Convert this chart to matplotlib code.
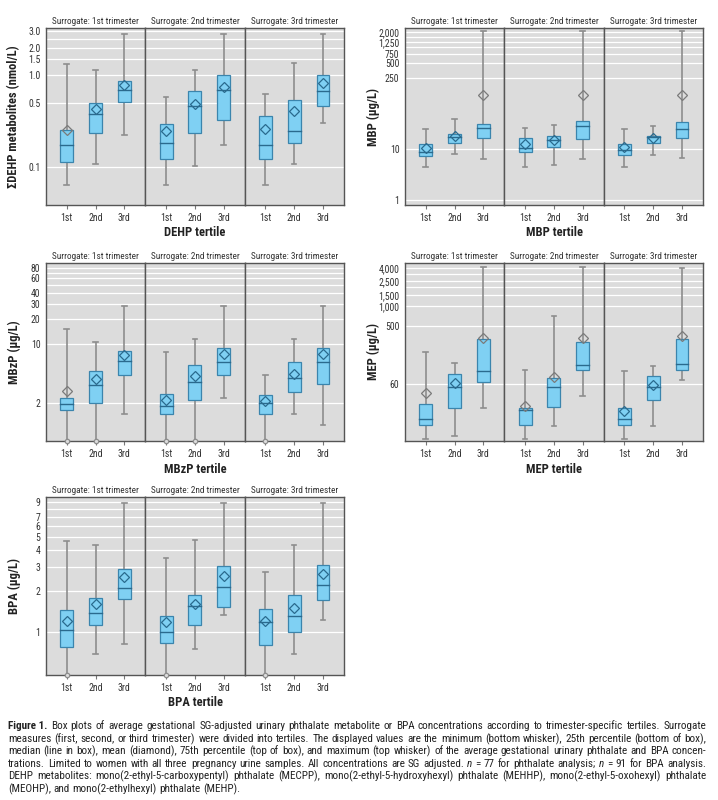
import math
import numpy as np
import matplotlib
matplotlib.use("Agg")
import matplotlib.pyplot as plt
from matplotlib import font_manager
from matplotlib.font_manager import FontProperties
from matplotlib.patches import Rectangle
from matplotlib.ticker import NullLocator, FixedLocator, FixedFormatter

# ---------------- data ----------------
surrogates = ["Surrogate: 1st trimester", "Surrogate: 2nd trimester", "Surrogate: 3rd trimester"]
tertiles = ["1st", "2nd", "3rd"]

# rows = surrogate trimester, columns = tertile ; None = below plotted range
dehp_min = [[0.064, 0.110, 0.223], [0.064, 0.104, 0.173], [0.064, 0.110, 0.301]]
dehp_q1 = [[0.114, 0.234, 0.517], [0.123, 0.238, 0.330], [0.122, 0.185, 0.468]]
dehp_med = [[0.173, 0.383, 0.693], [0.185, 0.460, 0.687], [0.173, 0.248, 0.670]]
dehp_mean = [[0.256, 0.431, 0.785], [0.248, 0.484, 0.753], [0.263, 0.406, 0.819]]
dehp_q3 = [[0.252, 0.496, 0.861], [0.298, 0.670, 1.00], [0.358, 0.544, 1.00]]
dehp_max = [[1.32, 1.14, 2.84], [0.586, 1.13, 2.84], [0.621, 1.35, 2.84]]

mbp_min = [[4.3, 7.85, 6.4], [4.3, 4.9, 6.4], [4.3, 7.7, 6.6]]
mbp_q1 = [[7.4, 13.1, 16.5], [8.6, 10.9, 15.8], [7.5, 13.1, 16.5]]
mbp_med = [[8.6, 17.5, 25.2], [10.6, 14.8, 27.6], [9.3, 17.0, 24.1]]
mbp_mean = [[10.6, 17.8, 113], [12.2, 14.8, 113], [10.8, 16.7, 115]]
mbp_q3 = [[12.2, 19.8, 31.1], [16.5, 17.8, 35.1], [12.2, 18.1, 34.6]]
mbp_max = [[24.1, 39.1, 2100], [26.0, 29.8, 2100], [24.8, 28.5, 2100]]

mbzp_min = [[None, None, 1.48], [None, None, 2.29], [None, 1.52, 1.11]]
mbzp_q1 = [[1.68, 2.05, 4.29], [1.48, 2.17, 4.29], [1.48, 2.75, 3.36]]
mbzp_med = [[1.95, 3.30, 6.28], [1.84, 3.54, 6.17], [2.05, 3.99, 6.17]]
mbzp_mean = [[2.82, 3.88, 7.47], [2.17, 4.21, 7.74], [2.15, 4.45, 7.60]]
mbzp_q3 = [[2.31, 4.88, 8.26], [2.58, 5.69, 8.97], [2.51, 6.17, 8.97]]
mbzp_max = [[15.1, 10.5, 28.5], [8.19, 11.6, 28.5], [4.33, 11.4, 28.5]]

mep_min = [[8.5, 9.5, 25.2], [8.5, 13.5, 38.9], [8.5, 13.5, 71]]
mep_q1 = [[14.1, 25.8, 66], [14.1, 26.4, 101], [14.1, 34, 99.5]]
mep_med = [[17.5, 55, 98], [23.7, 55, 121], [17.5, 55, 127]]
mep_mean = [[44.4, 63, 316], [27.4, 78, 324], [23.1, 58.6, 348]]
mep_q3 = [[29.4, 86, 313], [25.8, 74.5, 281], [25.5, 81, 313]]
mep_max = [[191, 128, 4070], [101, 719, 4070], [97, 118, 4000]]

bpa_min = [[None, 0.693, 0.817], [None, 0.75, 1.33], [None, 0.693, 1.23]]
bpa_q1 = [[0.785, 1.13, 1.75], [0.84, 1.13, 1.54], [0.81, 1.01, 1.72]]
bpa_med = [[1.03, 1.38, 2.10], [1.01, 1.56, 2.16], [1.18, 1.31, 2.23]]
bpa_mean = [[1.21, 1.62, 2.53], [1.19, 1.62, 2.58], [1.21, 1.51, 2.67]]
bpa_q3 = [[1.46, 1.78, 2.92], [1.31, 1.89, 3.07], [1.47, 1.89, 3.12]]
bpa_max = [[4.63, 4.33, 8.9], [3.53, 4.73, 8.9], [2.76, 4.33, 8.9]]

dehp_ticks = [0.1, 0.5, 1.0, 1.5, 2.0, 3.0]
dehp_ticklabels = ["0.1", "0.5", "1.0", "1.5", "2.0", "3.0"]
mbp_ticks = [1, 10, 250, 500, 750, 1250, 2000]
mbp_ticklabels = ["1", "10", "250", "500", "750", "1,250", "2,000"]
mbzp_ticks = [2, 10, 20, 30, 40, 60, 80]
mbzp_ticklabels = ["2", "10", "20", "30", "40", "60", "80"]
mep_ticks = [60, 500, 1000, 1500, 2500, 4000]
mep_ticklabels = ["60", "500", "1,000", "1,500", "2,500", "4,000"]
bpa_ticks = [1, 2, 3, 4, 5, 6, 7, 9]
bpa_ticklabels = ["1", "2", "3", "4", "5", "6", "7", "9"]

caption_lines = [
    "Box plots of average gestational SG-adjusted urinary phthalate metabolite or BPA concentrations according to trimester-specific tertiles. Surrogate",
    "measures (first, second, or third trimester) were divided into tertiles. The displayed values are the minimum (bottom whisker), 25th percentile (bottom of box),",
    "median (line in box), mean (diamond), 75th percentile (top of box), and maximum (top whisker) of the average gestational urinary phthalate and BPA concen-",
    "trations. Limited to women with all three pregnancy urine samples. All concentrations are SG adjusted. n = 77 for phthalate analysis; n = 91 for BPA analysis.",
    "DEHP metabolites: mono(2-ethyl-5-carboxypentyl) phthalate (MECPP), mono(2-ethyl-5-hydroxyhexyl) phthalate (MEHHP), mono(2-ethyl-5-oxohexyl) phthalate",
    "(MEOHP), and mono(2-ethylhexyl) phthalate (MEHP).",
]

# ---------------- fonts ----------------
names = {f.name for f in font_manager.fontManager.ttflist}
FAM = 'Liberation Sans'
for cand in ['Liberation Sans Narrow', 'Roboto Condensed', 'Open Sans Condensed', 'Noto Sans Condensed']:
    if cand in names:
        FAM = cand
        break
FAMILY = [FAM, 'DejaVu Sans']
plt.rcParams['font.family'] = FAMILY
plt.rcParams['font.stretch'] = 'condensed'

W, H = 718, 800
fig = plt.figure(figsize=(W / 100, H / 100), dpi=100)
fig.patch.set_facecolor('white')

BG = '#dcdcdc'
BOX_FC = '#7fd0f3'
BOX_EC = '#3b85ad'
MED_C = '#2a6a8e'
WHISK = '#8d8d8d'
FRAME = '#555555'
TXT = '#333333'


def fx(px):
    return px / W


def fy(py):
    return 1 - py / H


def draw_panel(x0, x1, y0, y1, stats, ylim, ticks, ticklabels, ylabel, xlabel, extra_grid):
    mins, q1s, meds, means, q3s, maxs = stats
    wpx = (x1 - x0) / 3
    for s in range(3):
        ax = fig.add_axes([fx(x0 + s * wpx), fy(y1), fx(wpx), (y1 - y0) / H])
        ax.set_facecolor(BG)
        ax.set_yscale('log')
        ax.set_ylim(ylim)
        ax.set_xlim(0.28, 3.73)
        for t in list(ticks) + list(extra_grid):
            ax.axhline(t, color='white', lw=0.9, zorder=0.5)
        for i in range(3):
            x = i + 1
            mn = mins[s][i]
            q1, md, mu, q3, mx = q1s[s][i], meds[s][i], means[s][i], q3s[s][i], maxs[s][i]
            below = mn is None
            lo = ylim[0] if below else mn
            ax.plot([x, x], [lo, mx], color=WHISK, lw=1.2, zorder=1, solid_capstyle='butt')
            ax.plot([x - 0.08, x + 0.08], [mx, mx], color=WHISK, lw=1.2, zorder=1)
            if below:
                ax.plot([x], [lo], marker='o', ms=3.2, mfc=BG, mec=WHISK, mew=0.9,
                        zorder=5, clip_on=False)
            else:
                ax.plot([x - 0.08, x + 0.08], [lo, lo], color=WHISK, lw=1.2, zorder=1)
            ax.add_patch(Rectangle((x - 0.225, q1), 0.45, q3 - q1, facecolor=BOX_FC,
                                   edgecolor=BOX_EC, lw=0.9, zorder=2))
            ax.plot([x - 0.225, x + 0.225], [md, md], color=MED_C, lw=1.0, zorder=3)
            inside = q1 <= mu <= q3
            ax.plot([x], [mu], marker='D', ms=4.6, mfc='none',
                    mec=MED_C if inside else '#7a7a7a', mew=0.9, zorder=4)
        ax.set_xticks([1, 2, 3])
        ax.set_xticklabels(tertiles)
        ax.tick_params(axis='x', length=3, width=0.8, color='#777777', pad=3,
                       labelsize=7, labelcolor=TXT)
        ax.yaxis.set_minor_locator(NullLocator())
        if s == 0:
            ax.yaxis.set_major_locator(FixedLocator(ticks))
            ax.yaxis.set_major_formatter(FixedFormatter(ticklabels))
            ax.tick_params(axis='y', length=0, pad=4, labelsize=7, labelcolor=TXT)
        else:
            ax.set_yticks([])
        for sp in ax.spines.values():
            sp.set_color(FRAME)
            sp.set_linewidth(1.0)
        ax.set_title(surrogates[s], fontsize=6.7, color=TXT, pad=3)
    fig.text(fx(x0 - 32), fy((y0 + y1) / 2), ylabel, rotation=90, ha='center', va='center',
             fontsize=9, fontweight='bold', color='#222222')
    fig.text(fx((x0 + x1) / 2), fy(y1 + 28), xlabel, ha='center', va='center',
             fontsize=9, fontweight='bold', color='#222222')


draw_panel(46, 344, 28, 205,
           (dehp_min, dehp_q1, dehp_med, dehp_mean, dehp_q3, dehp_max),
           (0.039, 3.27), dehp_ticks, dehp_ticklabels,
           "\u03a3DEHP metabolites (nmol/L)", "DEHP tertile", [2.5])
draw_panel(405, 703, 28, 205,
           (mbp_min, mbp_q1, mbp_med, mbp_mean, mbp_q3, mbp_max),
           (0.785, 2400), mbp_ticks, mbp_ticklabels,
           "MBP (\u00b5g/L)", "MBP tertile", [1000, 1600])
draw_panel(46, 344, 263, 441,
           (mbzp_min, mbzp_q1, mbzp_med, mbzp_mean, mbzp_q3, mbzp_max),
           (0.72, 91), mbzp_ticks, mbzp_ticklabels,
           "MBzP (\u00b5g/L)", "MBzP tertile", [50, 70])
draw_panel(405, 703, 263, 441,
           (mep_min, mep_q1, mep_med, mep_mean, mep_q3, mep_max),
           (7.8, 4780), mep_ticks, mep_ticklabels,
           "MEP (\u00b5g/L)", "MEP tertile", [2000, 3200])
draw_panel(46, 344, 497, 675,
           (bpa_min, bpa_q1, bpa_med, bpa_mean, bpa_q3, bpa_max),
           (0.486, 9.8), bpa_ticks, bpa_ticklabels,
           "BPA (\u00b5g/L)", "BPA tertile", [8])

# ---------------- caption (justified, word by word) ----------------
renderer = fig.canvas.get_renderer()
CAP_FS = 8.0
left_px, right_px = 8, 706
top_px, step = 729, 12.6


def text_width(s, weight='normal', style='normal'):
    t = fig.text(0, 0, s, fontsize=CAP_FS, fontweight=weight, fontstyle=style)
    w = t.get_window_extent(renderer).width
    t.remove()
    return w


def snapped_baseline(word, weight, style, row):
    """Display-space y so that the word's baseline lands exactly on pixel row `row`
    (compensates Agg's per-string rounding of the glyph bitmap)."""
    try:
        from matplotlib.backends.backend_agg import get_hinting_flag
        prop = FontProperties(family=FAMILY, size=CAP_FS, weight=weight, style=style,
                              stretch='condensed')
        font = renderer._prepare_font(prop)
        font.set_text(word, 0, flags=get_hinting_flag())
        D = font.get_descent() / 64.0
        Hh = font.get_width_height()[1] / 64.0
        A = Hh - D
        yagg = row + math.floor(A + D) - math.floor(A) - D
        return (H - yagg) / H
    except Exception:
        return fy(row)


space = text_width('a b') - text_width('ab')
for li, line in enumerate(caption_lines):
    row = round(top_px + li * step)
    words = []
    if li == 0:
        words.append(("Figure 1.", 'bold', 'normal'))
    words += [(w, 'normal', 'italic' if w == 'n' else 'normal') for w in line.split(' ')]
    widths = [text_width(w, wt, st) for w, wt, st in words]
    total = sum(widths)
    if li < len(caption_lines) - 1:
        gap = (right_px - left_px - total) / (len(words) - 1)
    else:
        gap = space
    xpx = left_px
    for (w, wt, st), wd in zip(words, widths):
        fig.text(fx(xpx), snapped_baseline(w, wt, st, row), w, fontsize=CAP_FS,
                 fontweight=wt, fontstyle=st, color='#222222', ha='left', va='baseline')
        xpx += wd + gap

fig.savefig('out.png', dpi=100, facecolor='white')
